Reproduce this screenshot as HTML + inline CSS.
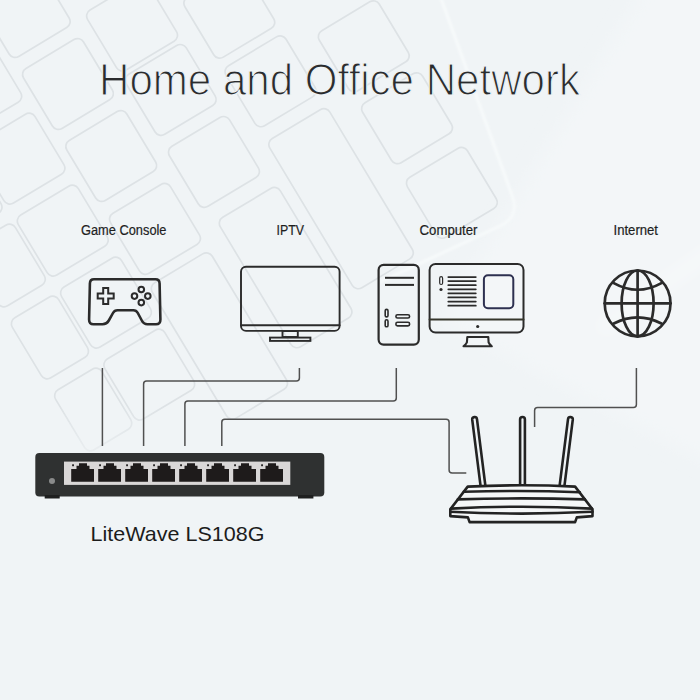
<!DOCTYPE html>
<html><head><meta charset="utf-8">
<style>
html,body{margin:0;padding:0;width:700px;height:700px;overflow:hidden;background:#f0f4f6;}
svg{position:absolute;left:0;top:0;display:block}
text{font-family:"Liberation Sans",sans-serif;}
</style></head><body>
<svg width="700" height="700" viewBox="0 0 700 700">
<rect x="0" y="0" width="700" height="700" fill="#f0f4f6"/>
<defs><linearGradient id="fade" x1="0" y1="0" x2="0" y2="700" gradientUnits="userSpaceOnUse"><stop offset="0.58" stop-color="#fff"/><stop offset="0.68" stop-color="#000"/></linearGradient><mask id="km" maskUnits="userSpaceOnUse" x="0" y="0" width="700" height="700"><rect x="0" y="0" width="700" height="700" fill="url(#fade)"/></mask></defs>
<filter id="bl3" x="-10%" y="-10%" width="120%" height="120%"><feGaussianBlur stdDeviation="0.6"/></filter>
<filter id="bl2" x="-20%" y="-20%" width="140%" height="140%"><feGaussianBlur stdDeviation="1.2"/></filter>
<filter id="bl" x="-20%" y="-20%" width="140%" height="140%"><feGaussianBlur stdDeviation="8"/></filter>
<g filter="url(#bl)">
<path d="M650 -20L720 -20L720 470L440 320Z" fill="#f3f6f8"/>
<path d="M600 330L720 245" stroke="#f8fafb" stroke-width="10" fill="none"/>
</g>
<g mask="url(#km)"><g filter="url(#bl3)"><g transform="rotate(-31)" fill="none" stroke="#dde2e5" stroke-width="1.7">
<rect x="-158.0" y="112.0" width="54" height="70.0" rx="7"/>
<rect x="-158.0" y="196.0" width="54" height="70.0" rx="7"/>
<rect x="-158.0" y="280.0" width="54" height="70.0" rx="7"/>
<rect x="-158.0" y="364.0" width="54" height="70.0" rx="7"/>
<rect x="-100.0" y="27.0" width="70" height="70.0" rx="7"/>
<rect x="-100.0" y="111.0" width="70" height="70.0" rx="7"/>
<rect x="-100.0" y="195.0" width="70" height="70.0" rx="7"/>
<rect x="-100.0" y="279.0" width="70" height="70.0" rx="7"/>
<rect x="-100.0" y="363.0" width="70" height="70.0" rx="7"/>
<rect x="-20.0" y="-12.0" width="70" height="70.0" rx="7"/>
<rect x="-20.0" y="72.0" width="70" height="70.0" rx="7"/>
<rect x="-20.0" y="156.0" width="70" height="70.0" rx="7"/>
<rect x="-20.0" y="241.0" width="70" height="70.0" rx="7"/>
<rect x="-20.0" y="322.0" width="70" height="158.0" rx="7"/>
<rect x="65.0" y="-29.0" width="70" height="70.0" rx="7"/>
<rect x="65.0" y="55.0" width="70" height="70.0" rx="7"/>
<rect x="65.0" y="130.0" width="70" height="70.0" rx="7"/>
<rect x="65.0" y="214.0" width="70" height="70.0" rx="7"/>
<rect x="72.0" y="301.0" width="70" height="151.0" rx="7"/>
<rect x="155.0" y="10.0" width="70" height="70.0" rx="7"/>
<rect x="155.0" y="94.0" width="70" height="70.0" rx="7"/>
<rect x="155.0" y="174.0" width="70" height="70.0" rx="7"/>
<rect x="155.0" y="259.0" width="70" height="174.0" rx="7"/>
<rect x="253.0" y="192.0" width="70" height="70.0" rx="7"/>
<rect x="253.0" y="276.0" width="70" height="70.0" rx="7"/>
<rect x="253.0" y="363.0" width="70" height="70.0" rx="7"/>
</g></g><path d="M438 -10L513 198Q519 217 500 226L380 282" fill="none" stroke="#f6f9fa" stroke-width="3.5" filter="url(#bl2)"/></g>
<!-- title -->
<text x="99" y="95.3" font-size="43.6" fill="#2a2c2e" stroke="#f0f4f6" stroke-width="1.2" textLength="481" lengthAdjust="spacingAndGlyphs">Home and Office Network</text>
<text x="81" y="235.2" font-size="14" fill="#1e1e1e" stroke="#1e1e1e" stroke-width="0.2" textLength="85.5" lengthAdjust="spacingAndGlyphs">Game Console</text>
<text x="276.5" y="235.2" font-size="14" fill="#1e1e1e" stroke="#1e1e1e" stroke-width="0.2" textLength="27.5" lengthAdjust="spacingAndGlyphs">IPTV</text>
<text x="419.5" y="235.2" font-size="14" fill="#1e1e1e" stroke="#1e1e1e" stroke-width="0.2" textLength="58" lengthAdjust="spacingAndGlyphs">Computer</text>
<text x="613.5" y="235.2" font-size="14" fill="#1e1e1e" stroke="#1e1e1e" stroke-width="0.2" textLength="44.5" lengthAdjust="spacingAndGlyphs">Internet</text>
<text x="90.5" y="541.3" font-size="20.8" fill="#1c1c1c" textLength="174" lengthAdjust="spacingAndGlyphs">LiteWave LS108G</text>

<g fill="none" stroke="#2b2b2b" stroke-linejoin="round" stroke-linecap="round">
<!-- controller -->
<path stroke-width="2.6" d="M94 279.3H155.5Q159.5 279.3 159.6 283.5L160.4 319.5Q160.5 324.2 156 324.2H147.5Q143.6 324.2 141.8 320.5L137.8 313Q136.3 310.2 133.3 310.2H117.5Q114.5 310.2 113 313L108.8 320.5Q106.7 324.2 102.5 324.2H93.5Q89 324.2 89.1 319.5L89.9 283.5Q90 279.3 94 279.3Z"/>
<path stroke-width="2" stroke-linejoin="miter" d="M103.2 288.1H108.2V293.6H113.7V298.6H108.2V304.1H103.2V298.6H97.7V293.6H103.2Z"/>
<g stroke-width="2">
<circle cx="141.3" cy="289.5" r="2.8"/><circle cx="141.3" cy="302.6" r="2.8"/>
<circle cx="134.5" cy="296.1" r="2.8"/><circle cx="147.8" cy="296.1" r="2.8"/>
</g>
<!-- TV -->
<g stroke-width="1.9">
<rect x="241" y="266.7" width="98.6" height="64.2" rx="5"/>
<line x1="241" y1="325.2" x2="339.6" y2="325.2"/>
<rect x="282.5" y="331" width="15.3" height="6" stroke-linejoin="miter"/>
<rect x="270" y="337.6" width="40.4" height="3.3" stroke-linejoin="miter"/>
</g>
<!-- tower -->
<rect stroke-width="2.2" x="378.6" y="264.9" width="40.2" height="79.7" rx="5"/>
<g stroke-width="2" stroke-linecap="butt">
<line x1="385" y1="277.8" x2="414" y2="277.8"/>
<line x1="385" y1="284.9" x2="414" y2="284.9"/>
</g>
<g stroke-width="1.6">
<rect x="385.2" y="309.4" width="2.8" height="7.5" rx="1.4"/>
<rect x="385.2" y="319.8" width="2.8" height="7" rx="1.4"/>
<rect x="395.9" y="314.8" width="13.7" height="3.2" rx="1.6"/>
<rect x="395.9" y="322.3" width="13.7" height="3.6" rx="1.6"/>
</g>
<!-- monitor -->
<rect stroke-width="2" x="429.6" y="263.9" width="93.9" height="68.7" rx="6"/>
<line stroke-width="2" stroke="#36362c" x1="429.6" y1="319.4" x2="523.5" y2="319.4"/>
<circle cx="477.7" cy="326.5" r="1.6" fill="#2b2b2b" stroke="none"/>
<path stroke-width="2.1" d="M467.3 337H488.3L488.6 342.4Q489.2 344.2 491.8 346.3H463.5Q466.1 344.2 466.9 342.4Z"/>
<g stroke-width="1.75" stroke-linecap="round">
<line x1="448.3" y1="277.00" x2="475.8" y2="277.00"/>
<line x1="448.3" y1="281.09" x2="475.8" y2="281.09"/>
<line x1="448.3" y1="285.18" x2="475.8" y2="285.18"/>
<line x1="448.3" y1="289.27" x2="475.8" y2="289.27"/>
<line x1="448.3" y1="293.36" x2="475.8" y2="293.36"/>
<line x1="448.3" y1="297.45" x2="475.8" y2="297.45"/>
<line x1="448.3" y1="301.54" x2="475.8" y2="301.54"/>
<line x1="448.3" y1="305.63" x2="475.8" y2="305.63"/>
</g>
<rect stroke-width="1.2" x="439.7" y="276.7" width="2.9" height="7.8" rx="1.45"/>
<circle cx="441" cy="289.5" r="1.6" fill="#2b2b2b" stroke="none"/>
<rect stroke-width="2" stroke="#2d3050" x="483.9" y="275.2" width="29.4" height="33" rx="4"/>
<!-- globe -->
<g stroke-width="2.7">
<circle cx="637.6" cy="303.4" r="32.9"/>
<ellipse cx="637.6" cy="303.4" rx="16" ry="32.9"/>
<line x1="637.6" y1="270.5" x2="637.6" y2="336.3"/>
<line x1="604.7" y1="303.3" x2="670.5" y2="303.3"/>
<path d="M613.8 283.1Q637.6 296.4 661.4 283.1"/>
<path d="M613.8 323.5Q637.6 311.1 661.4 323.5"/>
</g>
</g>

<!-- connection lines -->
<g fill="none" stroke="#505050" stroke-width="1.5">
<path d="M102.4 368V446"/>
<path d="M143.6 446V384Q143.6 381 146.6 381H296.4Q299.4 381 299.4 378V368"/>
<path d="M184.9 446V404Q184.9 401 187.9 401H393.3Q396.3 401 396.3 398V368"/>
<path d="M221.8 446V422.2Q221.8 419.2 224.8 419.2H446.1Q449.1 419.2 449.1 422.2V470Q449.1 473 452.1 473H466.3"/>
<path d="M636.4 368V404.4Q636.4 407.4 633.4 407.4H537.6Q534.6 407.4 534.6 410.4V427"/>
</g>

<!-- switch -->
<rect x="35.3" y="453" width="289" height="43.6" rx="4" fill="#2f3131"/>
<rect x="44.7" y="495" width="15" height="3.5" fill="#1f2020"/>
<rect x="298" y="495" width="15.4" height="3.5" fill="#1f2020"/>
<circle cx="52" cy="481.1" r="3" fill="#8a8b8b"/>
<rect x="64" y="461.6" width="226.3" height="23.3" fill="#d9d7d7"/>
<path d="M71.2 481.8V469H76.5V465.8H79.0V463.2H87.0V465.8H89.5V469H94.0V481.8Z" fill="#1e1b1b"/>
<rect x="72.1" y="464.3" width="1.9" height="1.9" fill="#2a2828"/>
<path d="M98.2 481.8V469H103.5V465.8H106.0V463.2H114.0V465.8H116.5V469H121.0V481.8Z" fill="#1e1b1b"/>
<rect x="99.1" y="464.3" width="1.9" height="1.9" fill="#2a2828"/>
<path d="M125.2 481.8V469H130.5V465.8H133.0V463.2H141.0V465.8H143.5V469H148.0V481.8Z" fill="#1e1b1b"/>
<rect x="126.1" y="464.3" width="1.9" height="1.9" fill="#2a2828"/>
<path d="M152.2 481.8V469H157.5V465.8H160.0V463.2H168.0V465.8H170.5V469H175.0V481.8Z" fill="#1e1b1b"/>
<rect x="153.1" y="464.3" width="1.9" height="1.9" fill="#2a2828"/>
<path d="M179.2 481.8V469H184.5V465.8H187.0V463.2H195.0V465.8H197.5V469H202.0V481.8Z" fill="#1e1b1b"/>
<rect x="180.1" y="464.3" width="1.9" height="1.9" fill="#2a2828"/>
<path d="M206.2 481.8V469H211.5V465.8H214.0V463.2H222.0V465.8H224.5V469H229.0V481.8Z" fill="#1e1b1b"/>
<rect x="207.1" y="464.3" width="1.9" height="1.9" fill="#2a2828"/>
<path d="M233.2 481.8V469H238.5V465.8H241.0V463.2H249.0V465.8H251.5V469H256.0V481.8Z" fill="#1e1b1b"/>
<rect x="234.1" y="464.3" width="1.9" height="1.9" fill="#2a2828"/>
<path d="M260.2 481.8V469H265.5V465.8H268.0V463.2H276.0V465.8H278.5V469H283.0V481.8Z" fill="#1e1b1b"/>
<rect x="261.1" y="464.3" width="1.9" height="1.9" fill="#2a2828"/>

<!-- router -->
<g fill="none" stroke="#232323" stroke-width="2.6" stroke-linejoin="round" stroke-linecap="round">
<path d="M480.62 486.30L472.22 419.70A2.4 2.4 0 0 1 476.98 419.10L485.38 485.70"/>
<path d="M520.10 486.00L520.10 419.40A2.4 2.4 0 0 1 524.90 419.40L524.90 486.00"/>
<path d="M559.62 485.70L568.02 419.10A2.4 2.4 0 0 1 572.78 419.70L564.38 486.30"/>
<path fill="#f5f7f8" d="M467.7 486.6Q522.5 484 575.1 486.6L592.5 509.3V516.1L576.8 517.4L575.1 522.1H469.6L467.9 517.4L450.3 516.1V509.3Z"/>
<path d="M463.9 491.8Q522.5 489.9 579.9 492.2"/>
<path d="M457.9 499.4Q522.5 497.4 584.9 499.4"/>
<path d="M451 508.6Q522.5 504.8 592 508.6"/>
<path d="M450.3 511.8Q522.5 515.4 592.5 511.8"/>
</g>
</svg>
</body></html>
